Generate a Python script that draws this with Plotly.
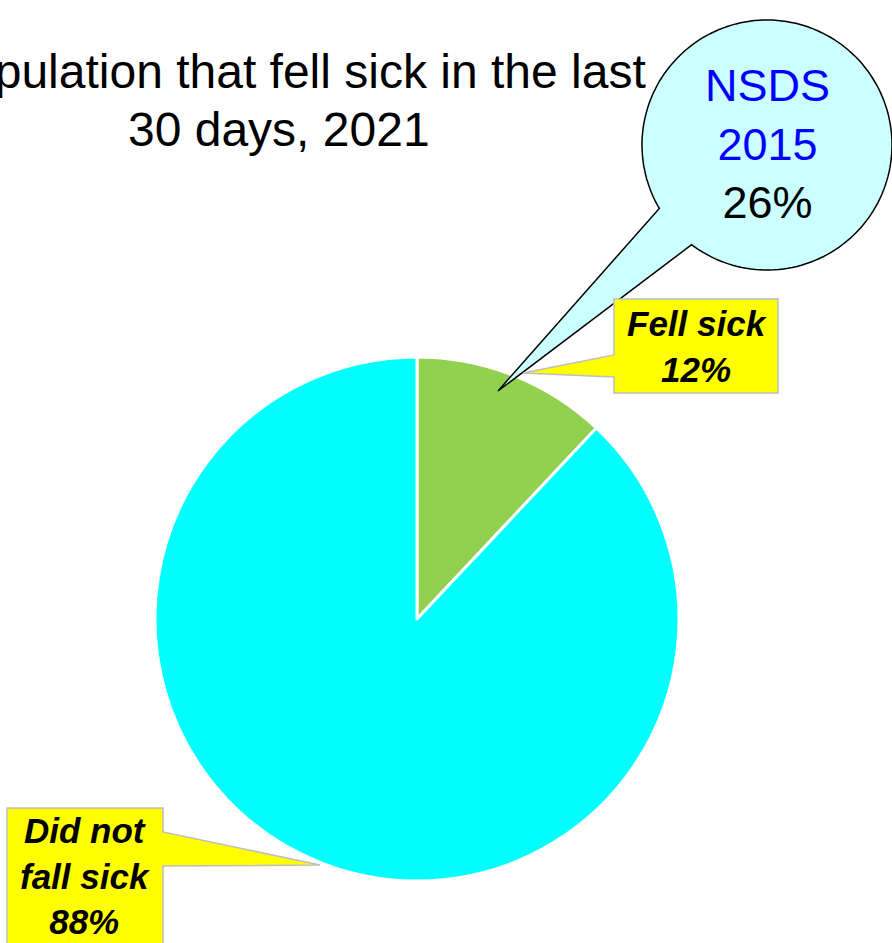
import numpy as np
import plotly.graph_objects as go

# ---- data ----
labels = ["Fell sick", "Did not fall sick"]
values = [12, 88]
label_lines = ["Fell sick", "Did not<br>fall sick"]
colors = ["#92D050", "#00FFFF"]
title_line1 = "Population that fell sick in the last"
title_line2 = "30 days, 2021"
ref_label = "NSDS<br>2015"
ref_value = 26

W, H = 892, 943
FONT = "Liberation Sans, Arial, sans-serif"

fig = go.Figure()

# pie placed in pixel box
px_left, px_right, px_top, px_bottom = 155, 679, 357, 881
fig.add_trace(go.Pie(
    labels=labels, values=values, sort=False, direction="clockwise", rotation=0,
    marker=dict(colors=colors, line=dict(color="white", width=3)),
    textinfo="none", hoverinfo="label+percent", showlegend=False,
    domain=dict(x=[px_left / W, px_right / W], y=[1 - px_bottom / H, 1 - px_top / H]),
))

fig.update_layout(
    width=W, height=H, margin=dict(l=0, r=0, t=0, b=0),
    paper_bgcolor="white", plot_bgcolor="white",
    xaxis=dict(range=[0, W], visible=False, fixedrange=True),
    yaxis=dict(range=[H, 0], visible=False, fixedrange=True),
    showlegend=False,
)

# ---- speech bubble (decoration) ----
cx, cy, r = 767, 145, 125
a1 = np.deg2rad(149.5)
a2 = np.deg2rad(127.1 + 360)
ang = np.linspace(a1, a2, 160)
pts = [(cx + r * np.cos(a), cy + r * np.sin(a)) for a in ang]
tip = (498, 391)
path = "M " + " L ".join(f"{x:.1f},{y:.1f}" for x, y in pts) + f" L {tip[0]},{tip[1]} Z"
fig.add_shape(type="path", path=path, xref="x", yref="y",
              fillcolor="#CCFFFF", line=dict(color="black", width=1.5), layer="above")

# ---- yellow callouts ----
def callout(box, join_top, join_bot, tip, side):
    l, t, rr, b = box
    if side == "left":
        p = (f"M {l},{t} L {rr},{t} L {rr},{b} L {l},{b} L {l},{join_bot} "
             f"L {tip[0]},{tip[1]} L {l},{join_top} Z")
    else:
        p = (f"M {l},{t} L {rr},{t} L {rr},{join_top} L {tip[0]},{tip[1]} "
             f"L {rr},{join_bot} L {rr},{b} L {l},{b} Z")
    fig.add_shape(type="path", path=p, xref="x", yref="y", fillcolor="#FFFF00",
                  line=dict(color="#BFBFBF", width=1.5), layer="above")

callout((614, 299, 778, 393), 355, 377, (523, 373), "left")
callout((7, 808, 163, 960), 832, 866, (320, 865), "right")

pct = [round(v / sum(values) * 100) for v in values]
fig.add_annotation(x=697, y=346, xref="x", yref="y", showarrow=False,
                   text=f"<b><i>{label_lines[0]}<br>{pct[0]}%</i></b>",
                   font=dict(family=FONT, size=35, color="black"), align="center",
                   xanchor="center", yanchor="middle")
fig.add_annotation(x=85, y=876, xref="x", yref="y", showarrow=False,
                   text=f"<b><i>{label_lines[1]}<br>{pct[1]}%</i></b>",
                   font=dict(family=FONT, size=35, color="black"), align="center",
                   xanchor="center", yanchor="middle")

# bubble text
fig.add_annotation(x=cx, y=144, xref="x", yref="y", showarrow=False,
                   text=f"<span style='color:#0000FF'>{ref_label}</span><br>{ref_value}%",
                   font=dict(family=FONT, size=45, color="black"), align="center",
                   xanchor="center", yanchor="middle")

# title
fig.add_annotation(x=648, y=71, xref="x", yref="y", showarrow=False,
                   text=title_line1, font=dict(family=FONT, size=48, color="black"),
                   xanchor="right", yanchor="middle")
fig.add_annotation(x=279, y=129, xref="x", yref="y", showarrow=False,
                   text=title_line2, font=dict(family=FONT, size=48, color="black"),
                   xanchor="center", yanchor="middle")

fig.write_html("out.html", config={"displayModeBar": False},
               post_script="document.body.style.margin='0';document.body.style.overflow='hidden';")
